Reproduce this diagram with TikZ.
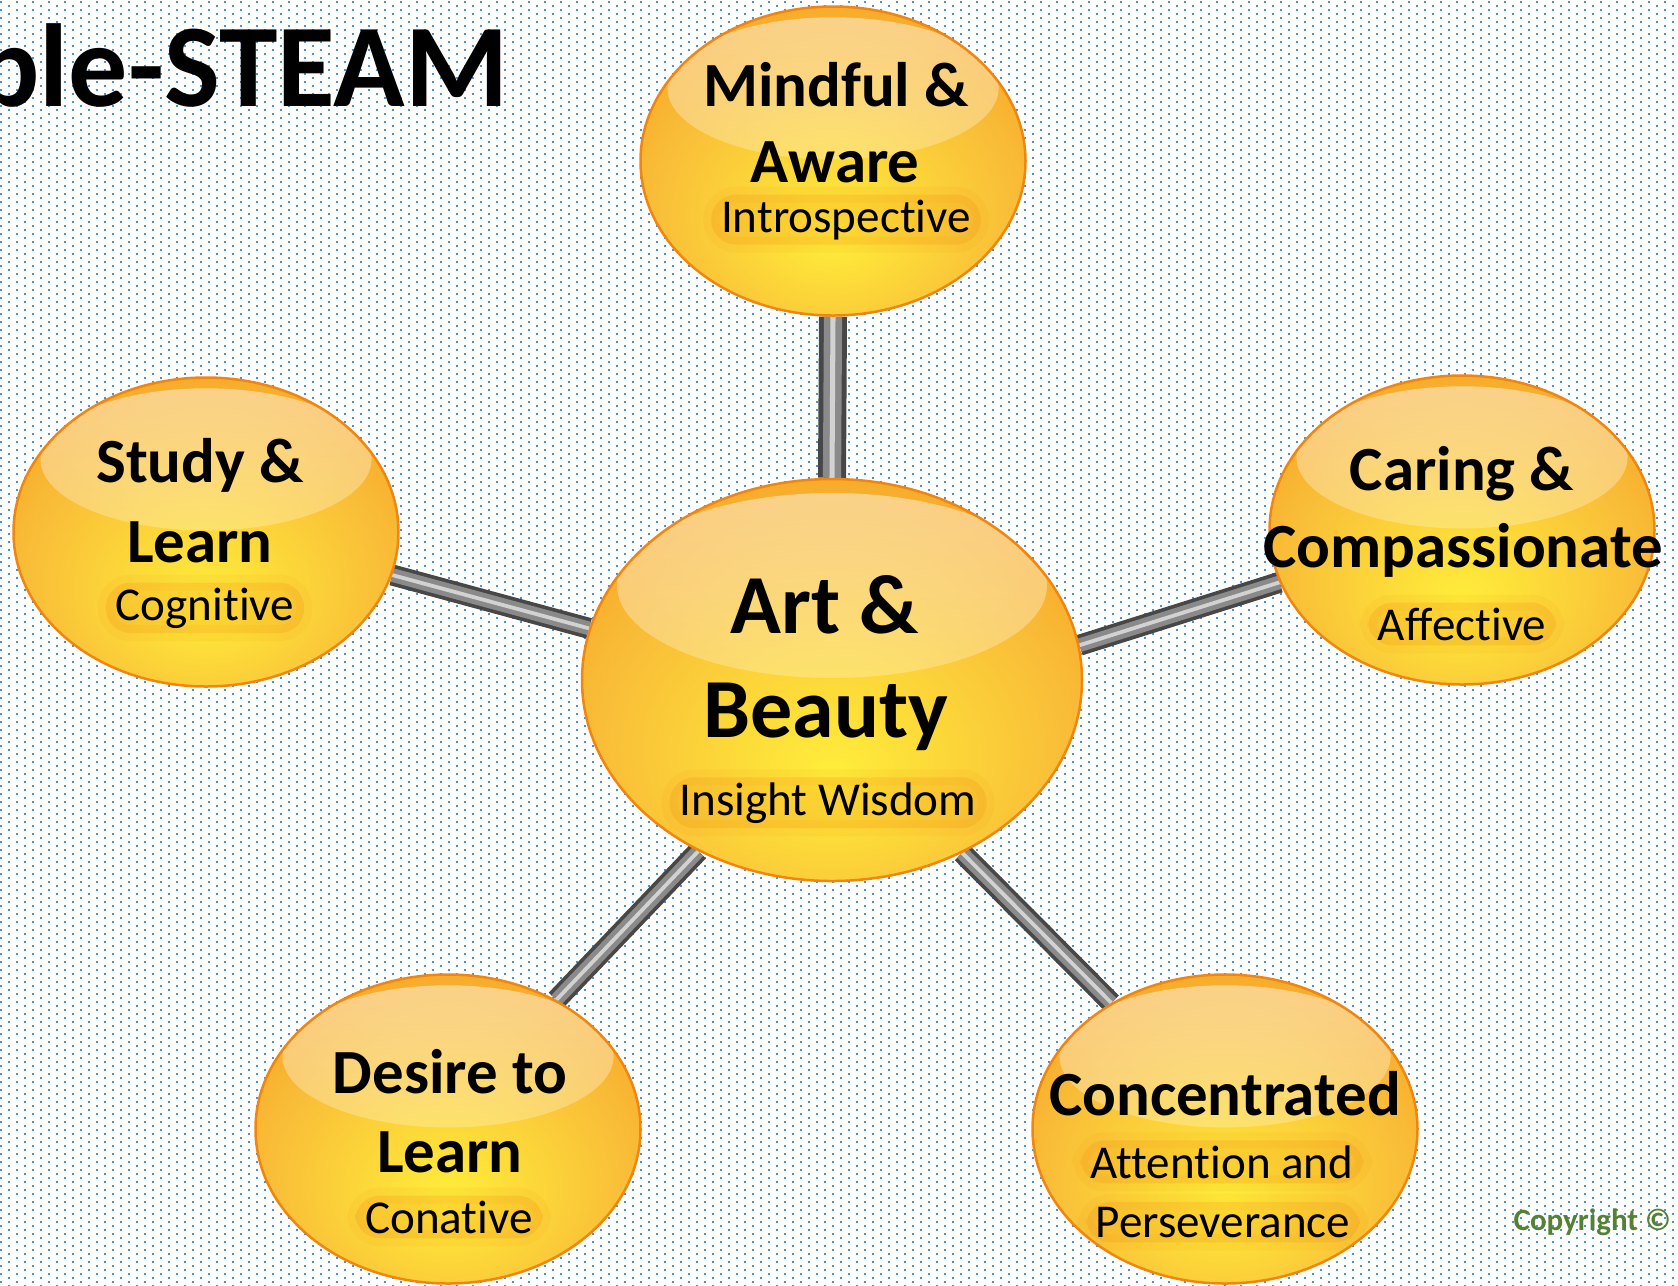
\documentclass[tikz,border=0pt]{standalone}
\usepackage{fontspec}
\setmainfont{Carlito}[Ligatures=NoCommon]
\usetikzlibrary{
  shapes.geometric,
  fadings,
  calc
}

\definecolor{dotblue}{HTML}{4F8FD6}
\definecolor{orbedge}{HTML}{F0860F}
\definecolor{orbrim}{HTML}{F59A20}
\definecolor{orbmid}{HTML}{F9BE38}
\definecolor{orbcore}{HTML}{FFEE3A}
\definecolor{rodedge}{HTML}{474747}
\definecolor{rodmid}{HTML}{8A8A8A}
\definecolor{rodshine}{HTML}{D2D2D2}
\definecolor{copygreen}{HTML}{548235}

\pgfdeclareradialshading{orbshade}{\pgfpoint{0bp}{-12bp}}{%
  color(0bp)=(orbcore); color(12bp)=(orbcore!50!orbmid); color(23bp)=(orbmid);
  color(33bp)=(orbmid!40!orbrim); color(41bp)=(orbrim); color(48bp)=(orbedge);
  color(70bp)=(orbedge)}
\tikzfading[name=glossfade, top color=transparent!55, bottom color=transparent!95]

\pgfdeclarelayer{dots}
\pgfdeclarelayer{back}
\pgfsetlayers{dots,back,main}

\newcommand\bighead{\fontsize{23.9pt}{28pt}\selectfont\bfseries}
\newcommand\orbhead{\fontsize{17.9pt}{21pt}\selectfont\bfseries}
\newcommand\orbsub{\fontsize{13.4pt}{16pt}\selectfont}

\tikzset{
  orb/.style={ellipse, draw=orbedge, line width=0.25mm, shading=orbshade,
    minimum width=38.5mm, minimum height=30.9mm, inner sep=0pt,
    path picture={\fill[white, path fading=glossfade]
      let \p1=(path picture bounding box.north east),
          \p2=(path picture bounding box.center) in
      (\x2,{\y2+0.47*(\y1-\y2)})
      ellipse [x radius={0.86*(\x1-\x2)}, y radius={0.46*(\y1-\y2)}];}},
  bigorb/.style={orb, minimum width=50mm, minimum height=40.2mm},
  head/.style={anchor=base, inner sep=0pt, font=\orbhead},
  headbig/.style={anchor=base, inner sep=0pt, font=\bighead},
  sub/.style={anchor=base, font=\orbsub, fill=orbedge, fill opacity=0.2,
    draw=orbedge, draw opacity=0.08, line width=1.6mm,
    text opacity=1, rounded corners=2.5mm, inner xsep=1mm, inner ysep=0.5mm},
  rod/.style={line width=#1, draw=rodedge,
    postaction={draw=rodmid, line width=0.65*#1},
    postaction={draw=rodshine, line width=0.18*#1}},
  rod/.default=2.1mm,
  dotrow/.style={dotblue, line width=0.22mm, dash pattern=on 0.22mm off 1.38mm}
}

\begin{document}
\begin{tikzpicture}[x=0.1mm, y=-0.1mm]
\useasboundingbox (0,0) rectangle (1678,1285);

% dotted paper
\begin{pgfonlayer}{dots}
\fill[white] (0,0) rectangle (1678,1285);
\foreach \r in {0,8,...,1280}
  \draw[dotrow] (0,\r+2) -- (1678,\r+2);
\foreach \r in {4,12,...,1284}
  \draw[dotrow, dash phase=0.8mm] (0,\r+2) -- (1678,\r+2);
\end{pgfonlayer}

\clip (0,0) rectangle (1678,1285);

\node[anchor=base east, inner sep=0pt, font=\fontsize{33.6pt}{40pt}\selectfont\bfseries]
  (title) at (509,106) {ble-STEAM};

% orbs
\node[bigorb] (art) at (832,680) {};
\node[orb] (mind) at (833,161) {};
\node[orb] (study) at (206,532) {};
\node[orb] (care) at (1462,530) {};
\node[orb] (desire) at (448,1129) {};
\node[orb] (conc) at (1225,1129) {};

% rods
\begin{pgfonlayer}{back}
\draw[rod=2.8mm] (art.north) -- (mind.south);
\draw[rod] (art.168) -- (study.347);
\draw[rod] (art.8) -- (care.196);
\draw[rod] (art.232) -- (desire.50);
\draw[rod] (art.307) -- (conc.132);
\end{pgfonlayer}

% labels
\node[headbig] (art-a) at (825,633) {Art \&};
\node[headbig] (art-b) at (826,737) {Beauty};
\node[sub] (art-s) at (828,815) {Insight Wisdom};

\node[head] (mind-a) at (836,106) {Mindful \&};
\node[head] (mind-b) at (835,182) {Aware};
\node[sub] (mind-s) at (846,232) {Introspective};

\node[head] (study-a) at (200,482) {Study \&};
\node[head] (study-b) at (200,562) {Learn};
\node[sub] (study-s) at (205,620) {Cognitive};

\node[head] (care-a) at (1462,490) {Caring \&};
\node[head] (care-b) at (1463,567) {Compassionate};
\node[sub] (care-s) at (1462,640) {Affective};

\node[head] (desire-a) at (450,1093) {Desire to};
\node[head] (desire-b) at (450,1172) {Learn};
\node[sub] (desire-s) at (449,1233) {Conative};

\node[head] (conc-a) at (1225,1115) {Concentrated};
\node[sub] (conc-s) at (1222,1178) {Attention and};
\node[sub] (conc-t) at (1223,1237) {Perseverance};

\node[anchor=base west, inner sep=0pt, text=copygreen,
  font=\fontsize{8.8pt}{10pt}\selectfont\bfseries] (copy) at (1513,1230) {Copyright ©};
\end{tikzpicture}
\end{document}
